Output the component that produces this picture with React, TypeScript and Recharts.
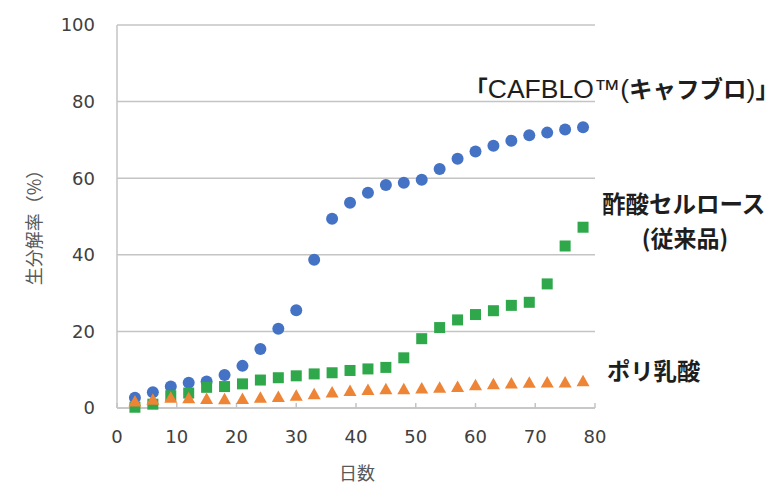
import React from "react";
import {
  ScatterChart,
  Scatter,
  XAxis,
  YAxis,
  CartesianGrid,
} from "recharts";

// days since start of test
const days = [3, 6, 9, 12, 15, 18, 21, 24, 27, 30, 33, 36, 39, 42, 45, 48, 51, 54, 57, 60, 63, 66, 69, 72, 75, 78];

// biodegradation rate (%)
const cafblo = [2.7, 4.1, 5.6, 6.6, 6.9, 8.6, 11.0, 15.4, 20.7, 25.5, 38.7, 49.4, 53.6, 56.2, 58.2, 58.8, 59.6, 62.4, 65.1, 67.0, 68.5, 69.8, 71.2, 71.9, 72.7, 73.3];
const celluloseAcetate = [0.2, 1.0, 3.2, 3.9, 5.4, 5.6, 6.3, 7.3, 7.9, 8.4, 8.9, 9.2, 9.8, 10.2, 10.6, 13.1, 18.1, 21.0, 23.0, 24.4, 25.4, 26.8, 27.6, 32.4, 42.3, 47.2];
const pla = [1.8, 2.3, 2.8, 2.7, 2.5, 2.4, 2.5, 2.8, 3.0, 3.3, 3.7, 4.2, 4.6, 4.8, 5.0, 5.0, 5.2, 5.4, 5.6, 6.1, 6.3, 6.5, 6.7, 6.8, 6.8, 7.1];

const xTicks = [0, 10, 20, 30, 40, 50, 60, 70, 80];
const yTicks = [0, 20, 40, 60, 80, 100];

const toPoints = (values: number[]) => days.map((d, i) => ({ x: d, y: values[i] }));

const BLUE = "#4472c4";
const GREEN = "#2ea84a";
const ORANGE = "#ee8435";
const GRID = "#c4c4c4";
const CJK = "'Noto Sans CJK JP', sans-serif";
const LATIN = "'Liberation Sans', Arial, sans-serif";
const INK = "#1e1e1e";

const Dot = (props: any) => <circle cx={props.cx} cy={props.cy} r={6} fill={BLUE} />;
const Square = (props: any) => (
  <rect x={props.cx - 5.5} y={props.cy - 5.5} width={11} height={11} fill={GREEN} />
);
const Triangle = (props: any) => {
  const { cx, cy } = props;
  return <polygon points={`${cx},${cy - 6} ${cx - 6.5},${cy + 5.5} ${cx + 6.5},${cy + 5.5}`} fill={ORANGE} />;
};

const tickStyle = { fill: "#404040", fontSize: 18, fontFamily: "'DejaVu Sans', sans-serif" };

export default function App() {
  return (
    <div style={{ position: "relative", width: 773, height: 486, background: "#fff" }}>
      <style>{"body{margin:0}"}</style>
      <ScatterChart width={773} height={486} margin={{ top: 25, right: 178, bottom: 0, left: 0 }}>
        <CartesianGrid vertical={false} stroke={GRID} strokeWidth={1.5} />
        <XAxis
          type="number"
          dataKey="x"
          domain={[0, 80]}
          ticks={xTicks}
          height={78}
          axisLine={{ stroke: GRID, strokeWidth: 1.5 }}
          tickLine={{ stroke: GRID, strokeWidth: 1.5 }}
          tickSize={-5}
          tickMargin={27}
          tick={tickStyle}
          label={{
            content: () => (
              <text x={357} y={472} textAnchor="middle" dominantBaseline="central" fill="#595959" fontSize={18} fontFamily={CJK}>
                日数
              </text>
            ),
          }}
        />
        <YAxis
          type="number"
          dataKey="y"
          domain={[0, 100]}
          ticks={yTicks}
          width={117}
          axisLine={{ stroke: GRID, strokeWidth: 1.5 }}
          tickLine={false}
          tickMargin={16}
          tick={tickStyle}
          label={{
            content: () => (
              <text
                x={33}
                y={223}
                transform="rotate(-90 33 223)"
                textAnchor="middle"
                dominantBaseline="central"
                fill="#595959"
                fontSize={18}
                fontFamily={CJK}
              >
                生分解率（%）
              </text>
            ),
          }}
        />
        <Scatter name="CAFBLO" data={toPoints(cafblo)} shape={Dot} isAnimationActive={false} />
        <Scatter name="酢酸セルロース" data={toPoints(celluloseAcetate)} shape={Square} isAnimationActive={false} />
        <Scatter name="ポリ乳酸" data={toPoints(pla)} shape={Triangle} isAnimationActive={false} />
      </ScatterChart>
      {/* series labels placed beside the last points */}
      <svg width={773} height={486} style={{ position: "absolute", left: 0, top: 0, pointerEvents: "none" }}>
        <text x={476} y={98} fill={INK}>
          <tspan fontFamily={CJK} fontSize={23.5} fontWeight={700}>｢</tspan>
          <tspan fontFamily={LATIN} fontSize={26.5}>CAFBLO™(</tspan>
          <tspan fontFamily={CJK} fontSize={23.5} fontWeight={700}>キャフブロ</tspan>
          <tspan fontFamily={LATIN} fontSize={26.5}>)</tspan>
          <tspan fontFamily={CJK} fontSize={23.5} fontWeight={700}>｣</tspan>
        </text>
        <text x={602} y={213} fill={INK} fontFamily={CJK} fontSize={23.5} fontWeight={700}>
          酢酸セルロース
        </text>
        <text x={685} y={247} textAnchor="middle" fill={INK} fontFamily={CJK} fontSize={23} fontWeight={700}>
          (従来品)
        </text>
        <text x={607} y={380} fill={INK} fontFamily={CJK} fontSize={23.3} fontWeight={700}>
          ポリ乳酸
        </text>
      </svg>
    </div>
  );
}
